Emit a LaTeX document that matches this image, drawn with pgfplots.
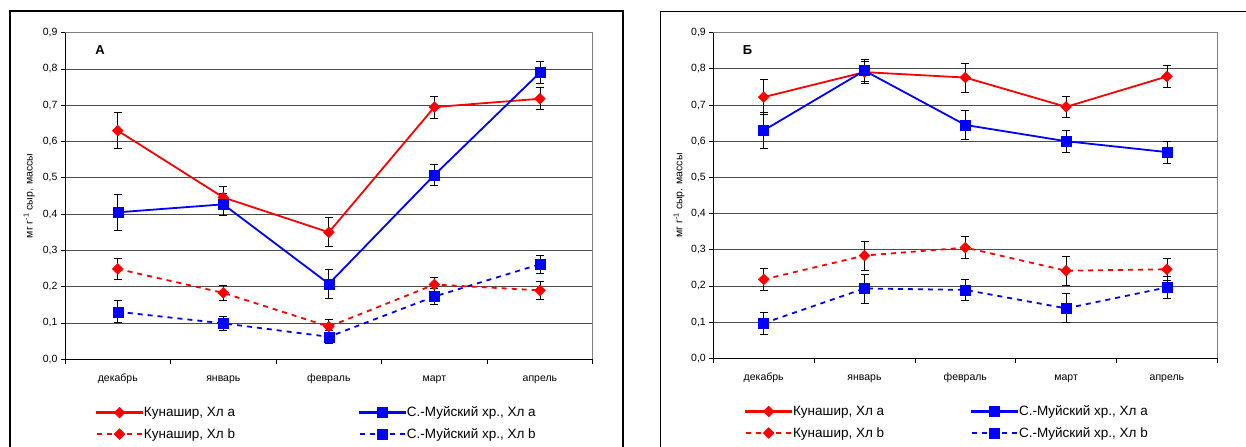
\documentclass[border=0pt]{standalone}
\usepackage{fontspec}
\setmainfont{Liberation Sans}
\usepackage{pgfplots}
\pgfplotsset{compat=1.18}

\pgfplotsset{
  panel/.style={
    scale only axis, clip=false,
    xmin=-0.5, xmax=4.5, ymin=0, ymax=0.9,
    axis lines=left,
    axis line style={-, black, line width=0.8bp},
    ytick={0,0.1,0.2,0.3,0.4,0.5,0.6,0.7,0.8,0.9},
    ymajorgrids,
    major grid style={black!70, line width=0.8bp},
    yticklabel style={/pgf/number format/.cd, fixed, fixed zerofill, precision=1, use comma, assume math mode=true},
    tick label style={font=\fontsize{10.5bp}{12bp}\selectfont, black},
    xticklabel style={text height=8bp, text depth=2.5bp, inner sep=0pt, yshift=-14bp},
    tick align=outside,
    major tick length=4bp,
    tick style={black, line width=0.8bp},
    xtick={-0.5,0.5,1.5,2.5,3.5,4.5},
    xticklabels={},
    x tick style={/pgfplots/major tick length=5bp},
    extra x ticks={0,1,2,3,4},
    extra x tick labels={декабрь,январь,февраль,март,апрель},
    extra x tick style={major tick length=0pt, tick style={draw=none}, grid=none},
    ylabel={мг г\textsuperscript{-1} сыр. массы},
    ylabel style={font=\fontsize{10.5bp}{12bp}\selectfont, at={(axis description cs:-0.068,0.5)}, anchor=center},
    legend columns=2,
    legend cell align=left,
    legend style={draw=none, fill=none, inner sep=0pt, font=\fontsize{13.5bp}{15bp}\selectfont,
      nodes={inner sep=1bp}, row sep=8bp, column sep=0bp},
    error bars/y dir=both,
    error bars/y explicit,
    error bars/error bar style={black, line width=0.8bp, solid},
    error bars/error mark options={black, mark size=4bp, line width=0.8bp, rotate=90, solid},
  },
  kuna/.style={color=red, draw=red, solid, line width=1.8bp, mark=square*, mark size=3.8bp,
    mark options={rotate=45, solid, fill=red, draw=red, line width=0.5bp},
    legend image code/.code={%
      \fill[red] (0bp,-0.9bp) rectangle (45bp,0.9bp);
      \path[##1] plot[only marks] coordinates {(22.5bp,0bp)};}},
  muia/.style={color=blue, draw=blue, solid, line width=1.8bp, mark=square*, mark size=5bp,
    mark options={solid, fill=blue, draw=blue, line width=0.5bp},
    legend image code/.code={%
      \fill[blue] (0bp,-0.9bp) rectangle (45bp,0.9bp);
      \path[##1] plot[only marks] coordinates {(22.5bp,0bp)};}},
  dashleg/.style={legend image code/.code={%
      \draw[##1, mark=none] (0bp,0bp) -- (45bp,0bp);
      \path[##1] plot[only marks] coordinates {(22.5bp,0bp)};}},
  kunb/.style={kuna, dash pattern=on 5bp off 5bp, dashleg},
  muib/.style={muia, dash pattern=on 5bp off 5bp, dashleg},
}

\begin{document}
\begin{tikzpicture}
% Panel A
\begin{axis}[panel, name=A, width=527.7bp, height=326.6bp,
  legend style={at={(axis description cs:0.0587,-0.142)}, anchor=north west,
    /tikz/every even column/.append style={column sep=123bp}}]
\draw[gray, line width=0.8bp] (rel axis cs:0,1) -- (rel axis cs:1,1) -- (rel axis cs:1,0);
\draw[black, line width=1.2bp] (rel axis cs:-0.1042,-0.3) -- (rel axis cs:-0.1042,1.0665) -- (rel axis cs:1.0574,1.0665) -- (rel axis cs:1.0574,-0.3);
\coordinate (TL) at (rel axis cs:-0.12318,1.10012);
\coordinate (BR) at (rel axis cs:2.23802,-0.26852);
\coordinate (BO) at (rel axis cs:1.22854,0.00306);
\addplot[kuna] table[x=x, y=y, y error=e] {
x y e
0 0.630 0.050
1 0.446 0.030
2 0.350 0.040
3 0.695 0.030
4 0.718 0.030
};
\addlegendentry{Кунашир, Хл a}
\addplot[muia] table[x=x, y=y, y error=e] {
x y e
0 0.405 0.050
1 0.427 0.030
2 0.208 0.040
3 0.508 0.030
4 0.790 0.030
};
\addlegendentry{С.-Муйский хр., Хл a}
\addplot[kunb] table[x=x, y=y, y error=e] {
x y e
0 0.249 0.030
1 0.183 0.020
2 0.090 0.020
3 0.206 0.020
4 0.190 0.025
};
\addlegendentry{Кунашир, Хл b}
\addplot[muib] table[x=x, y=y, y error=e] {
x y e
0 0.131 0.030
1 0.099 0.020
2 0.062 0.017
3 0.173 0.022
4 0.262 0.025
};
\addlegendentry{С.-Муйский хр., Хл b}
\node[font=\bfseries\fontsize{13bp}{15bp}\selectfont] at (axis cs:-0.168,0.852) {А};
\end{axis}

% Panel B
\begin{axis}[panel, at={(BO)}, anchor=south west, width=504bp, height=325.6bp,
  legend style={at={(axis description cs:0.0631,-0.142)}, anchor=north west,
    /tikz/every even column/.append style={column sep=86bp}}]
\draw[gray, line width=0.8bp] (rel axis cs:0,1) -- (rel axis cs:1,1) -- (rel axis cs:1,0);
\draw[black, line width=1.2bp] (rel axis cs:-0.10437,-0.3) -- (rel axis cs:-0.10437,1.06511) -- (rel axis cs:1.08,1.06511);
\addplot[kuna] table[x=x, y=y, y error=e] {
x y e
0 0.722 0.048
1 0.791 0.030
2 0.776 0.040
3 0.695 0.030
4 0.779 0.030
};
\addlegendentry{Кунашир, Хл a}
\addplot[muia] table[x=x, y=y, y error=e] {
x y e
0 0.630 0.050
1 0.795 0.030
2 0.645 0.040
3 0.600 0.030
4 0.570 0.030
};
\addlegendentry{С.-Муйский хр., Хл a}
\addplot[kunb] table[x=x, y=y, y error=e] {
x y e
0 0.218 0.030
1 0.284 0.040
2 0.306 0.030
3 0.242 0.040
4 0.246 0.030
};
\addlegendentry{Кунашир, Хл b}
\addplot[muib] table[x=x, y=y, y error=e] {
x y e
0 0.097 0.030
1 0.193 0.040
2 0.189 0.030
3 0.138 0.040
4 0.196 0.030
};
\addlegendentry{С.-Муйский хр., Хл b}
\node[font=\bfseries\fontsize{13bp}{15bp}\selectfont] at (axis cs:-0.161,0.852) {Б};
\end{axis}
\pgfresetboundingbox
\path[use as bounding box] (TL) rectangle (BR);
\end{tikzpicture}
\end{document}
